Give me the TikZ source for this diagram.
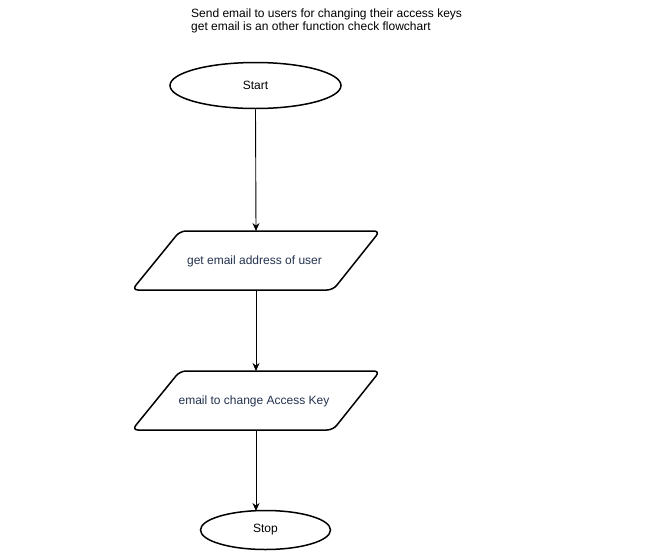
\documentclass[tikz,border=0pt]{standalone}
\usepackage{fontspec}
\setmainfont{Liberation Sans}
\usetikzlibrary{shapes.geometric,arrows.meta}
\definecolor{navy}{HTML}{23324F}
\begin{document}
\begin{tikzpicture}[x=1pt,y=-1pt,
  term/.style={draw,line width=1.5pt,ellipse,inner sep=0pt,font=\fontsize{12}{14}\selectfont},
  conn/.style={-{Stealth[length=8pt,width=7pt]},line width=0.9pt},
  pgram/.style={line width=1.5pt,rounded corners=6pt},
  lbl/.style={font=\fontsize{12}{14}\selectfont,text=navy}]
\useasboundingbox (0,0) rectangle (651,552);
\node[anchor=north west,align=left,inner sep=0pt,font=\fontsize{12}{12.5}\selectfont] (title) at (191,9) {Send email to users for changing their access keys\\get email is an other function check flowchart};
\node[term,minimum width=171pt,minimum height=46pt] (start) at (255.5,85.5) {Start};
% parallelogram 1
\draw[pgram] (180,231) -- (380,231) -- (333,290) -- (132,290) -- cycle;
\node[lbl] (p1) at (254.5,261) {get email address of user};
\coordinate (p1n) at (256,231);
\coordinate (p1s) at (256,290);
% parallelogram 2
\draw[pgram] (180,371) -- (380,371) -- (333,430) -- (132,430) -- cycle;
\node[lbl] (p2) at (254,401) {email to change Access Key};
\coordinate (p2n) at (256,371);
\coordinate (p2s) at (256,430);
\node[term,minimum width=130pt,minimum height=39pt] (stop) at (265.5,530) {Stop};
\coordinate (stopn) at (256,511);
\draw[conn] (start.south) -- (p1n);
\draw[conn] (p1s) -- (p2n);
\draw[conn] (p2s) -- (stopn);
\end{tikzpicture}
\end{document}
